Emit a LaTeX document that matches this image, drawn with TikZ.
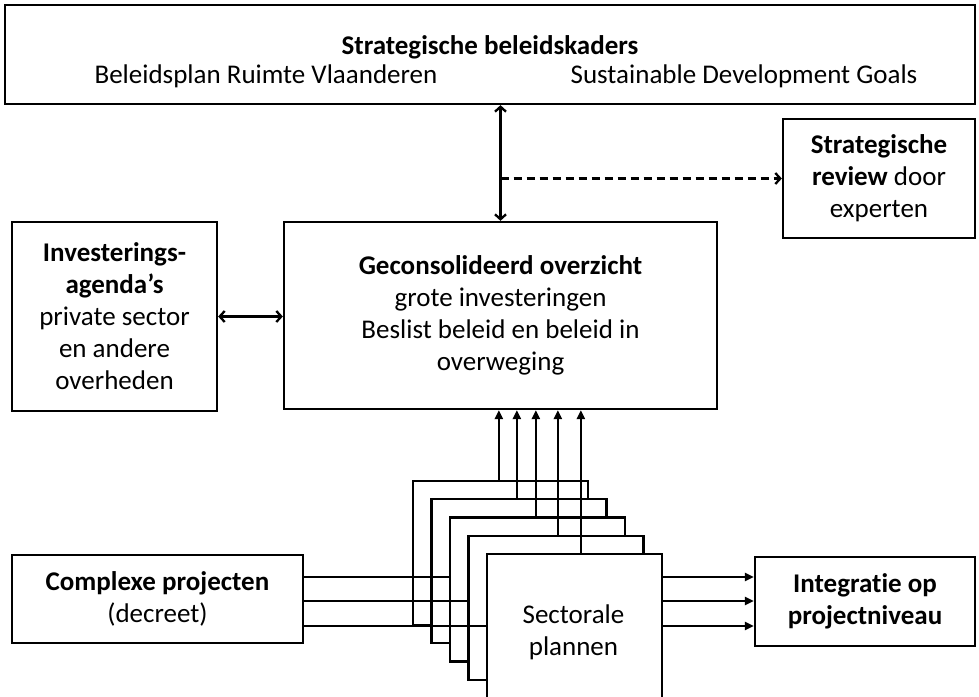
\documentclass[tikz,border=0pt]{standalone}
\usepackage{fontspec}
\setmainfont{Carlito}[Ligatures={NoCommon}]
\usetikzlibrary{arrows.meta,calc}
\begin{document}
\begin{tikzpicture}[x=1pt,y=-1pt,
  box/.style={draw,line width=2.3pt,fill=white,inner sep=0pt,align=center,
    font=\fontsize{27}{32}\selectfont},
  txt/.style={inner sep=0pt,align=center,font=\fontsize{27}{32}\selectfont},
  ln/.style={line width=2.3pt},
  barb/.style={line width=2.3pt,{Straight Barb[length=5pt,width=11pt]}-{Straight Barb[length=5pt,width=11pt]}},
  dbarb/.style={line width=2.3pt,dashed,dash pattern=on 8pt off 5pt,-{Straight Barb[length=5pt,width=11pt]}},
  tri/.style={line width=2.3pt,-{Triangle[length=9pt,width=8pt]}}]
\useasboundingbox (0,0) rectangle (979,696);
\fill[white] (0,0) rectangle (979,696);
% top box
\node[box,minimum width=970pt,minimum height=99pt] (top) at (490,54.5) {};
\node[txt] (toptitle) at (490,47) {\bfseries Strategische beleidskaders};
\node[txt] (topl) at (266,76) {Beleidsplan Ruimte Vlaanderen};
\node[txt] (topr) at (744,76) {Sustainable Development Goals};
% review
\node[box,minimum width=192pt,minimum height=119pt] (rev) at (879,178.5)
  {\textbf{Strategische}\\\textbf{review} door\\experten};
% investment agendas
\node[box,minimum width=205pt,minimum height=189pt] (inv) at (114.5,316.5)
  {\textbf{Investerings-}\\\textbf{agenda’s}\\private sector\\en andere\\overheden};
% center
\node[box,minimum width=433pt,minimum height=187pt] (cen) at (500.5,315.5)
  {\textbf{Geconsolideerd overzicht}\\grote investeringen\\Beslist beleid en beleid in\\overweging};
% complexe projecten
\node[box,minimum width=291pt,minimum height=88pt] (cp) at (157.5,599)
  {\textbf{Complexe projecten}\\(decreet)};
% integratie
\node[box,minimum width=220pt,minimum height=89pt] (int) at (865,601.5)
  {\textbf{Integratie op}\\\textbf{projectniveau}};
% stacked sector plans
\node[box,minimum width=175pt,minimum height=144pt] (s1) at (500.5,553) {};
\node[box,minimum width=175pt,minimum height=144pt] (s2) at (519,571.25) {};
\node[box,minimum width=175pt,minimum height=144pt] (s3) at (537.5,589.5) {};
\node[box,minimum width=175pt,minimum height=144pt] (s4) at (556,607.75) {};
\node[box,minimum width=175pt,minimum height=144pt] (s5) at (574.5,626) {};
\node[txt] (s5t) at (573.5,632) {Sectorale\\plannen};
% connectors top
\draw[barb] (cen.north |- top.south) -- (cen.north);
\draw[dbarb] (cen.north |- rev.west) -- (rev.west);
\draw[barb] (inv.east) -- (cen.west |- inv.east);
% vertical arrows up
\draw[tri] ($(s1.north west)+(87,0)$) coordinate (a1) -- (a1 |- cen.south);
\draw[tri] ($(s2.north west)+(86.5,0)$) coordinate (a2) -- (a2 |- cen.south);
\draw[tri] ($(s3.north west)+(87,0)$) coordinate (a3) -- (a3 |- cen.south);
\draw[tri] ($(s4.north west)+(90.5,0)$) coordinate (a4) -- (a4 |- cen.south);
\draw[tri] ($(s5.north west)+(95,0)$) coordinate (a5) -- (a5 |- cen.south);
% lines from complexe projecten
\draw[ln] ($(cp.east)+(0,-22)$) coordinate (h1) -- (h1 -| s3.west);
\draw[ln] ($(cp.east)+(0,2)$) coordinate (h2) -- (h2 -| s4.west);
\draw[ln] ($(cp.east)+(0,27)$) coordinate (h3) -- (h3 -| s5.west);
% arrows to integratie
\draw[tri] (s5.east |- h1) -- (int.west |- h1);
\draw[tri] (s5.east |- h2) -- (int.west |- h2);
\draw[tri] (s5.east |- h3) -- (int.west |- h3);
\end{tikzpicture}
\end{document}
